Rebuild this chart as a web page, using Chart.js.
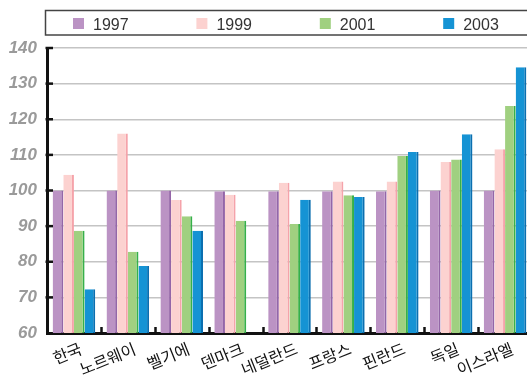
<!DOCTYPE html>
<html><head><meta charset="utf-8">
<script src="https://cdn.jsdelivr.net/npm/chart.js@4"></script>
<style>html,body{margin:0;padding:0;overflow:hidden;background:#fff;width:527px;height:378px}</style>
</head><body>
<canvas id="c" width="534" height="378"></canvas>
<script>
const categories = ['한국','노르웨이','벨기에','덴마크','네덜란드','프랑스','핀란드','독일','이스라엘'];
const seriesNames = ['1997','1999','2001','2003'];
const v1997 = [100, 100, 100, 99.8, 99.8, 99.8, 99.8, 100, 100];
const v1999 = [104.4, 116, 97.3, 98.8, 102.2, 102.5, 102.5, 108, 111.6];
const v2001 = [88.7, 82.8, 92.8, 91.5, 90.6, 98.7, 109.7, 108.7, 123.7];
const v2003 = [72.3, 78.8, 88.7, null, 97.4, 98.2, 110.8, 115.8, 134.6];
const yTicks = [60,70,80,90,100,110,120,130,140];

const faces = ['#bb93c4','#fcd2d0','#a0d080','#1593d4'];
const sides = ['#9466a8','#f5a3aa','#36b04a','#0b6fb0'];
const values = [v1997, v1999, v2001, v2003];

const datasets = seriesNames.map((n,i)=>({
  label:n, data:values[i], backgroundColor:faces[i], borderColor:sides[i],
  borderWidth:{top:0,left:0,bottom:0,right:2}, borderSkipped:false,
  categoryPercentage:0.79, barPercentage:1.0
}));

const deco = {
  id:'deco',
  afterDraw(chart){
    const ctx = chart.ctx, x = chart.scales.x, y = chart.scales.y, area = chart.chartArea;
    ctx.save();
    ctx.strokeStyle = '#111'; ctx.lineWidth = 2.5;
    for (let i=1;i<categories.length;i++){
      const px = (x.getPixelForValue(i-1)+x.getPixelForValue(i))/2;
      ctx.beginPath(); ctx.moveTo(Math.round(px)+0.5, area.bottom); ctx.lineTo(Math.round(px)+0.5, area.bottom-6); ctx.stroke();
    }
    yTicks.forEach(v=>{
      if (v===60) return;
      const py = y.getPixelForValue(v);
      ctx.beginPath(); ctx.moveTo(area.left-1.5, py); ctx.lineTo(area.left+6, py); ctx.stroke();
    });
    ctx.strokeStyle = '#444'; ctx.lineWidth = 1.5;
    ctx.strokeRect(45.5, 10.5, 520, 24.5);
    ctx.font = '16px "Liberation Sans", Arial, sans-serif';
    ctx.textBaseline = 'alphabetic';
    chart.data.datasets.forEach((d,i)=>{
      const lx = 73 + i*123.4;
      ctx.fillStyle = d.backgroundColor;
      ctx.fillRect(lx, 18, 11, 11);
      ctx.fillStyle = '#333';
      ctx.fillText(d.label, lx+20, 29.5);
    });
    ctx.restore();
  }
};

new Chart(document.getElementById('c'), {
  type:'bar',
  data:{labels:categories, datasets},
  plugins:[deco],
  options:{
    responsive:false, animation:false,
    layout:{padding:{top:48,right:2,left:0,bottom:0}},
    plugins:{legend:{display:false}, tooltip:{enabled:false}},
    scales:{
      x:{
        grid:{display:false, drawTicks:false},
        border:{display:true,color:'#111',width:3},
        ticks:{color:'#111', font:{size:16, family:'"Noto Sans CJK KR", sans-serif'}, minRotation:22, maxRotation:22, padding:6, labelOffset:7, autoSkip:false},
        afterFit(s){ s.height = 45; }
      },
      y:{
        min:60, max:140,
        afterBuildTicks(s){ s.ticks = yTicks.map(v=>({value:v})); },
        grid:{color:'#c4c4c4', lineWidth:1.5, drawTicks:false},
        border:{display:true,color:'#111',width:3},
        ticks:{color:'#9a9a9a', padding:10, font:{size:17, weight:'bold', style:'italic', family:'"Liberation Sans", Arial, sans-serif'}},
        afterFit(s){ s.width = 47; }
      }
    }
  }
});
</script>
</body></html>
